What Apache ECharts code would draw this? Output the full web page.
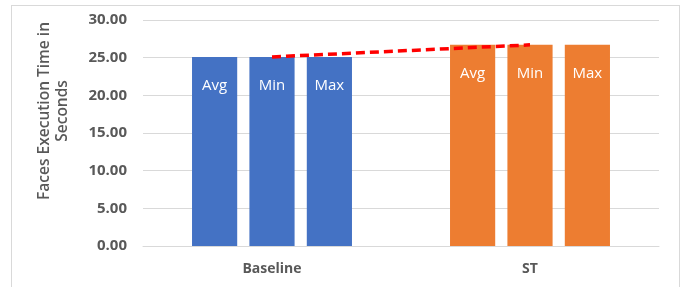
<!DOCTYPE html>
<html>
<head>
<meta charset="utf-8">
<script src="https://cdn.jsdelivr.net/npm/echarts@6/dist/echarts.min.js"></script>
<style>
  html, body { margin: 0; padding: 0; background: #fff; }
  #chart { width: 690px; height: 287px; }
  #frame { position: absolute; left: 11px; top: 5px; width: 667px; height: 300px; border: 1px solid #d9d9d9; pointer-events: none; }
</style>
</head>
<body>
<div id="chart"></div>
<div id="frame"></div>
<script>
const categories = ["Baseline", "ST"];
const seriesNames = ["Avg", "Min", "Max"];
const avgValues = [25.1, 26.7];
const minValues = [25.1, 26.7];
const maxValues = [25.1, 26.7];
const yTicks = { min: 0, max: 30, interval: 5 };

const barColors = ['#4472C4', '#ED7D31'];
const textColor = '#595959';
const font = 'Open Sans';

const chart = echarts.init(document.getElementById("chart"));

function barSeries(name, values) {
    return {
        name: name,
        type: 'bar',
        data: values.map((v, i) => ({ value: v, itemStyle: { color: barColors[i] } })),
        barGap: '27%',
        barCategoryGap: '38%',
        label: {
            show: true,
            position: 'insideTop',
            distance: 21,
            formatter: '{a}',
            color: '#fff',
            fontFamily: font,
            fontSize: 15
        }
    };
}

const option = {
    animation: false,
    textStyle: { fontFamily: font },
    grid: { left: 143, right: 31, top: 20, bottom: 41 },
    graphic: [{
        type: 'text',
        left: 36,
        top: 22,
        rotation: Math.PI / 2,
        style: {
            text: 'Faces Execution Time in\nSeconds',
            fill: textColor,
            font: '600 15.5px "Open Sans"',
            textAlign: 'center',
            textVerticalAlign: 'middle',
            lineHeight: 18
        }
    }],
    xAxis: {
        type: 'category',
        data: categories,
        axisLine: { lineStyle: { color: '#d9d9d9' } },
        axisTick: { show: false },
        axisLabel: { color: textColor, fontSize: 14, fontWeight: 'bold', margin: 16 }
    },
    yAxis: {
        type: 'value',
        min: yTicks.min,
        max: yTicks.max,
        interval: yTicks.interval,
        axisLabel: {
            color: textColor, fontSize: 15, fontWeight: 'bold', margin: 16,
            formatter: v => v.toFixed(2)
        },
        splitLine: { lineStyle: { color: '#d9d9d9' } }
    },
    series: [
        barSeries(seriesNames[0], avgValues),
        barSeries(seriesNames[1], minValues),
        barSeries(seriesNames[2], maxValues),
        {
            name: 'Trend',
            type: 'line',
            data: minValues,
            symbol: 'none',
            lineStyle: { color: '#FF0000', width: 3.5, type: [9, 5] },
            z: 5
        }
    ]
};

chart.setOption(option);
</script>
</body>
</html>
